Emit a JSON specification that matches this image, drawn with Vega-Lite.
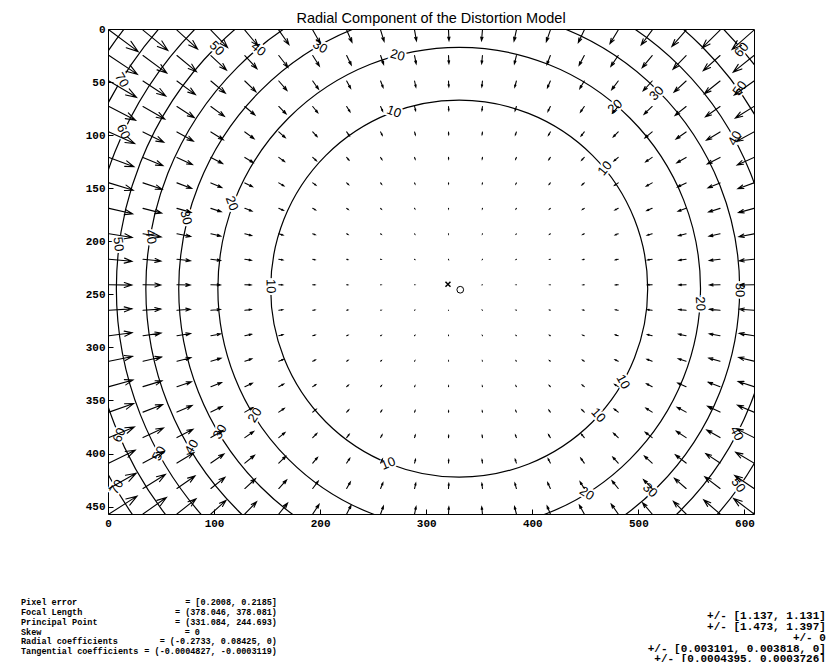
{
"$schema": "https://vega.github.io/schema/vega-lite/v6.json",
"width": 646, "height": 485,
"autosize": {"type": "none"},
"padding": {"left": 108, "top": 29, "right": 72, "bottom": 148},
"background": "white",
"config": {
 "view": {"stroke": "black", "strokeWidth": 1},
 "axis": {"domain": false, "grid": false, "ticks": true, "tickSize": -5, "tickColor": "black", "labelFont": "Liberation Mono", "labelFontWeight": "bold", "labelFontSize": 11, "labelColor": "black", "labelPadding": 8, "labelFlush": false, "labelOverlap": false, "title": null}
},
"title": {"text": "Radial Component of the Distortion Model", "font": "Liberation Sans", "fontSize": 14.5, "fontWeight": "normal", "color": "black", "offset": -3, "anchor": "middle"},
"datasets": {
 "contours": [
  {"level": 10, "r": 177.7, "cx": 331.08, "cy": 244.69},
  {"level": 20, "r": 227.5, "cx": 331.08, "cy": 244.69},
  {"level": 30, "r": 264.4, "cx": 331.08, "cy": 244.69},
  {"level": 40, "r": 295.4, "cx": 331.08, "cy": 244.69},
  {"level": 50, "r": 323.2, "cx": 331.08, "cy": 244.69},
  {"level": 60, "r": 349.2, "cx": 331.08, "cy": 244.69},
  {"level": 70, "r": 374.4, "cx": 331.08, "cy": 244.69},
  {"level": 80, "r": 399.6, "cx": 331.08, "cy": 244.69}
 ],
 "labels": [
  {"t":"50","x":102.5,"y":18.2,"a":45.3},
  {"t":"40","x":141.7,"y":19.1,"a":40.0},
  {"t":"30","x":199.8,"y":16.7,"a":29.9},
  {"t":"70","x":12.9,"y":48.1,"a":58.3},
  {"t":"60","x":14.4,"y":96.8,"a":65.0},
  {"t":"20","x":273.0,"y":24.8,"a":14.8},
  {"t":"10","x":269.5,"y":78.0,"a":20.3},
  {"t":"60","x":597.4,"y":19.8,"a":-49.8},
  {"t":"50","x":595.8,"y":55.9,"a":-54.5},
  {"t":"30","x":517.2,"y":60.6,"a":-45.3},
  {"t":"20","x":478.0,"y":73.2,"a":-40.6},
  {"t":"40","x":591.1,"y":103.0,"a":-61.4},
  {"t":"20","x":116.6,"y":164.3,"a":69.5},
  {"t":"30","x":73.5,"y":177.5,"a":75.4},
  {"t":"40","x":40.3,"y":195.8,"a":80.5},
  {"t":"50","x":9.7,"y":202.7,"a":82.6},
  {"t":"10","x":153.4,"y":242.3,"a":89.2},
  {"t":"10","x":468.5,"y":131.3,"a":-50.5},
  {"t":"20","x":558.3,"y":258.8,"a":86.4},
  {"t":"30","x":595.5,"y":246.0,"a":89.7},
  {"t":"60","x":10.7,"y":382.7,"a":-66.7},
  {"t":"50","x":48.4,"y":400.0,"a":-61.2},
  {"t":"40","x":78.9,"y":393.8,"a":-59.4},
  {"t":"30","x":105.6,"y":379.6,"a":-59.1},
  {"t":"20","x":138.6,"y":363.9,"a":-58.2},
  {"t":"70","x":8.2,"y":431.5,"a":-60.0},
  {"t":"10","x":264.2,"y":409.4,"a":-22.1},
  {"t":"10","x":462.2,"y":363.9,"a":47.7},
  {"t":"10","x":485.6,"y":332.5,"a":60.4},
  {"t":"20","x":451.3,"y":437.7,"a":31.9},
  {"t":"30","x":511.0,"y":434.6,"a":43.5},
  {"t":"40","x":592.6,"y":381.1,"a":62.5},
  {"t":"50","x":594.2,"y":429.9,"a":54.9}
 ],
 "arrows": [
  {"x":1,"y":1,"a":-53.5,"m":84.6},{"x":33,"y":1,"a":-50.7,"m":74.8},{"x":65,"y":1,"a":-47.5,"m":65.2},{"x":97,"y":1,"a":-43.8,"m":56.2},{"x":129,"y":1,"a":-39.7,"m":48.1},{"x":161,"y":1,"a":-35.0,"m":41.1},{"x":193,"y":1,"a":-29.6,"m":35.4},{"x":225,"y":1,"a":-23.6,"m":30.9},{"x":257,"y":1,"a":-17.1,"m":27.6},{"x":289,"y":1,"a":-10.0,"m":25.5},{"x":321,"y":1,"a":-2.6,"m":24.5},{"x":353,"y":1,"a":4.9,"m":24.7},{"x":385,"y":1,"a":12.2,"m":26.0},{"x":417,"y":1,"a":19.1,"m":28.4},{"x":449,"y":1,"a":25.5,"m":32.2},{"x":481,"y":1,"a":31.3,"m":37.0},{"x":513,"y":1,"a":36.4,"m":43.2},{"x":545,"y":1,"a":41.0,"m":50.5},{"x":577,"y":1,"a":45.0,"m":58.9},{"x":609,"y":1,"a":48.5,"m":68.1},
  {"x":1,"y":25,"a":-56.3,"m":79.3},{"x":33,"y":25,"a":-53.6,"m":68.9},{"x":65,"y":25,"a":-50.4,"m":59.0},{"x":97,"y":25,"a":-46.8,"m":49.7},{"x":129,"y":25,"a":-42.6,"m":41.6},{"x":161,"y":25,"a":-37.8,"m":34.6},{"x":193,"y":25,"a":-32.2,"m":29.0},{"x":225,"y":25,"a":-25.9,"m":24.6},{"x":257,"y":25,"a":-18.8,"m":21.5},{"x":289,"y":25,"a":-11.0,"m":19.4},{"x":321,"y":25,"a":-2.9,"m":18.5},{"x":353,"y":25,"a":5.4,"m":18.7},{"x":385,"y":25,"a":13.5,"m":19.9},{"x":417,"y":25,"a":21.0,"m":22.3},{"x":449,"y":25,"a":27.9,"m":25.8},{"x":481,"y":25,"a":34.0,"m":30.6},{"x":513,"y":25,"a":39.3,"m":36.7},{"x":545,"y":25,"a":43.9,"m":44.0},{"x":577,"y":25,"a":48.0,"m":52.5},{"x":609,"y":25,"a":51.4,"m":62.0},
  {"x":1,"y":49,"a":-59.3,"m":74.3},{"x":33,"y":49,"a":-56.7,"m":63.5},{"x":65,"y":49,"a":-53.6,"m":53.3},{"x":97,"y":49,"a":-50.1,"m":43.9},{"x":129,"y":49,"a":-45.9,"m":35.8},{"x":161,"y":49,"a":-41.0,"m":28.9},{"x":193,"y":49,"a":-35.3,"m":23.4},{"x":225,"y":49,"a":-28.5,"m":19.2},{"x":257,"y":49,"a":-20.9,"m":16.2},{"x":289,"y":49,"a":-12.3,"m":14.3},{"x":321,"y":49,"a":-3.2,"m":13.4},{"x":353,"y":49,"a":6.1,"m":13.6},{"x":385,"y":49,"a":15.0,"m":14.8},{"x":417,"y":49,"a":23.3,"m":17.0},{"x":449,"y":49,"a":30.7,"m":20.4},{"x":481,"y":49,"a":37.1,"m":25.0},{"x":513,"y":49,"a":42.6,"m":30.9},{"x":545,"y":49,"a":47.3,"m":38.2},{"x":577,"y":49,"a":51.2,"m":46.7},{"x":609,"y":49,"a":54.6,"m":56.3},
  {"x":1,"y":73,"a":-62.4,"m":69.6},{"x":33,"y":73,"a":-60.0,"m":58.5},{"x":65,"y":73,"a":-57.1,"m":48.1},{"x":97,"y":73,"a":-53.7,"m":38.8},{"x":129,"y":73,"a":-49.6,"m":30.7},{"x":161,"y":73,"a":-44.7,"m":24.0},{"x":193,"y":73,"a":-38.8,"m":18.7},{"x":225,"y":73,"a":-31.8,"m":14.7},{"x":257,"y":73,"a":-23.5,"m":11.9},{"x":289,"y":73,"a":-14.0,"m":10.1},{"x":321,"y":73,"a":-3.7,"m":9.3},{"x":353,"y":73,"a":6.9,"m":9.5},{"x":385,"y":73,"a":17.0,"m":10.5},{"x":417,"y":73,"a":26.2,"m":12.6},{"x":449,"y":73,"a":34.1,"m":15.8},{"x":481,"y":73,"a":40.7,"m":20.2},{"x":513,"y":73,"a":46.3,"m":26.0},{"x":545,"y":73,"a":50.9,"m":33.1},{"x":577,"y":73,"a":54.8,"m":41.5},{"x":609,"y":73,"a":58.1,"m":51.2},
  {"x":1,"y":97,"a":-65.8,"m":65.4},{"x":33,"y":97,"a":-63.6,"m":54.1},{"x":65,"y":97,"a":-60.9,"m":43.7},{"x":97,"y":97,"a":-57.7,"m":34.3},{"x":129,"y":97,"a":-53.8,"m":26.4},{"x":161,"y":97,"a":-49.0,"m":19.9},{"x":193,"y":97,"a":-43.1,"m":14.8},{"x":225,"y":97,"a":-35.7,"m":11.0},{"x":257,"y":97,"a":-26.8,"m":8.4},{"x":289,"y":97,"a":-16.1,"m":6.8},{"x":321,"y":97,"a":-4.3,"m":6.1},{"x":353,"y":97,"a":8.0,"m":6.2},{"x":385,"y":97,"a":19.6,"m":7.1},{"x":417,"y":97,"a":29.7,"m":9.1},{"x":449,"y":97,"a":38.2,"m":12.0},{"x":481,"y":97,"a":45.0,"m":16.2},{"x":513,"y":97,"a":50.6,"m":21.7},{"x":545,"y":97,"a":55.1,"m":28.6},{"x":577,"y":97,"a":58.7,"m":37.1},{"x":609,"y":97,"a":61.7,"m":46.8},
  {"x":1,"y":121,"a":-69.4,"m":61.8},{"x":33,"y":121,"a":-67.4,"m":50.3},{"x":65,"y":121,"a":-65.0,"m":39.8},{"x":97,"y":121,"a":-62.1,"m":30.6},{"x":129,"y":121,"a":-58.5,"m":22.7},{"x":161,"y":121,"a":-53.9,"m":16.5},{"x":193,"y":121,"a":-48.1,"m":11.6},{"x":225,"y":121,"a":-40.7,"m":8.1},{"x":257,"y":121,"a":-31.1,"m":5.7},{"x":289,"y":121,"a":-19.1,"m":4.3},{"x":321,"y":121,"a":-5.1,"m":3.7},{"x":353,"y":121,"a":9.5,"m":3.8},{"x":385,"y":121,"a":23.0,"m":4.6},{"x":417,"y":121,"a":34.3,"m":6.3},{"x":449,"y":121,"a":43.2,"m":9.0},{"x":481,"y":121,"a":50.1,"m":12.9},{"x":513,"y":121,"a":55.4,"m":18.2},{"x":545,"y":121,"a":59.6,"m":25.0},{"x":577,"y":121,"a":63.0,"m":33.3},{"x":609,"y":121,"a":65.8,"m":42.9},
  {"x":1,"y":145,"a":-73.1,"m":58.8},{"x":33,"y":145,"a":-71.4,"m":47.2},{"x":65,"y":145,"a":-69.3,"m":36.7},{"x":97,"y":145,"a":-66.8,"m":27.5},{"x":129,"y":145,"a":-63.6,"m":19.9},{"x":161,"y":145,"a":-59.5,"m":13.7},{"x":193,"y":145,"a":-54.1,"m":9.1},{"x":225,"y":145,"a":-46.8,"m":5.9},{"x":257,"y":145,"a":-36.7,"m":3.7},{"x":289,"y":145,"a":-23.2,"m":2.5},{"x":321,"y":145,"a":-6.3,"m":2.0},{"x":353,"y":145,"a":11.7,"m":2.1},{"x":385,"y":145,"a":27.7,"m":2.8},{"x":417,"y":145,"a":40.1,"m":4.3},{"x":449,"y":145,"a":49.3,"m":6.7},{"x":481,"y":145,"a":55.9,"m":10.3},{"x":513,"y":145,"a":60.9,"m":15.5},{"x":545,"y":145,"a":64.7,"m":22.1},{"x":577,"y":145,"a":67.6,"m":30.2},{"x":609,"y":145,"a":70.0,"m":39.8},
  {"x":1,"y":169,"a":-77.0,"m":56.4},{"x":33,"y":169,"a":-75.6,"m":44.8},{"x":65,"y":169,"a":-74.0,"m":34.2},{"x":97,"y":169,"a":-71.9,"m":25.2},{"x":129,"y":169,"a":-69.3,"m":17.6},{"x":161,"y":169,"a":-65.9,"m":11.7},{"x":193,"y":169,"a":-61.1,"m":7.3},{"x":225,"y":169,"a":-54.4,"m":4.3},{"x":257,"y":169,"a":-44.4,"m":2.4},{"x":289,"y":169,"a":-29.3,"m":1.3},{"x":321,"y":169,"a":-8.2,"m":0.9},{"x":353,"y":169,"a":15.3,"m":1.0},{"x":385,"y":169,"a":34.6,"m":1.6},{"x":417,"y":169,"a":47.9,"m":2.8},{"x":449,"y":169,"a":56.7,"m":5.0},{"x":481,"y":169,"a":62.8,"m":8.5},{"x":513,"y":169,"a":67.0,"m":13.4},{"x":545,"y":169,"a":70.2,"m":19.8},{"x":577,"y":169,"a":72.6,"m":27.8},{"x":609,"y":169,"a":74.5,"m":37.3},
  {"x":1,"y":193,"a":-81.0,"m":54.6},{"x":33,"y":193,"a":-80.0,"m":42.9},{"x":65,"y":193,"a":-78.8,"m":32.5},{"x":97,"y":193,"a":-77.4,"m":23.4},{"x":129,"y":193,"a":-75.5,"m":16.1},{"x":161,"y":193,"a":-72.9,"m":10.2},{"x":193,"y":193,"a":-69.2,"m":6.1},{"x":225,"y":193,"a":-63.8,"m":3.2},{"x":257,"y":193,"a":-54.9,"m":1.5},{"x":289,"y":193,"a":-39.3,"m":0.64},{"x":321,"y":193,"a":-11.9,"m":0.32},{"x":353,"y":193,"a":21.7,"m":0.36},{"x":385,"y":193,"a":45.1,"m":0.82},{"x":417,"y":193,"a":58.2,"m":1.9},{"x":449,"y":193,"a":65.7,"m":4.0},{"x":481,"y":193,"a":70.5,"m":7.2},{"x":513,"y":193,"a":73.8,"m":11.9},{"x":545,"y":193,"a":76.1,"m":18.1},{"x":577,"y":193,"a":77.9,"m":26.1},{"x":609,"y":193,"a":79.2,"m":35.5},
  {"x":1,"y":217,"a":-85.0,"m":53.5},{"x":33,"y":217,"a":-84.5,"m":41.8},{"x":65,"y":217,"a":-83.9,"m":31.4},{"x":97,"y":217,"a":-83.0,"m":22.4},{"x":129,"y":217,"a":-82.0,"m":15.1},{"x":161,"y":217,"a":-80.5,"m":9.4},{"x":193,"y":217,"a":-78.3,"m":5.3},{"x":225,"y":217,"a":-75.0,"m":2.6},{"x":257,"y":217,"a":-69.1,"m":0.98},{"x":289,"y":217,"a":-56.3,"m":0.29},{"x":321,"y":217,"a":-21.1,"m":0.07},{"x":353,"y":217,"a":36.1,"m":0.1},{"x":385,"y":217,"a":61.5,"m":0.42},{"x":417,"y":217,"a":71.3,"m":1.4},{"x":449,"y":217,"a":76.2,"m":3.2},{"x":481,"y":217,"a":79.1,"m":6.4},{"x":513,"y":217,"a":81.0,"m":10.9},{"x":545,"y":217,"a":82.3,"m":17.1},{"x":577,"y":217,"a":83.3,"m":25.0},{"x":609,"y":217,"a":84.1,"m":34.4},
  {"x":1,"y":241,"a":-89.2,"m":53.0},{"x":33,"y":241,"a":-89.1,"m":41.3},{"x":65,"y":241,"a":-89.0,"m":30.9},{"x":97,"y":241,"a":-88.9,"m":22.0},{"x":129,"y":241,"a":-88.7,"m":14.7},{"x":161,"y":241,"a":-88.4,"m":9.1},{"x":193,"y":241,"a":-88.1,"m":5.0},{"x":225,"y":241,"a":-87.5,"m":2.4},{"x":257,"y":241,"a":-86.4,"m":0.84},{"x":289,"y":241,"a":-83.8,"m":0.17},{"x":321,"y":241,"a":-67.1,"m":0.01},{"x":353,"y":241,"a":77.4,"m":0.02},{"x":385,"y":241,"a":84.9,"m":0.31},{"x":417,"y":241,"a":86.8,"m":1.2},{"x":449,"y":241,"a":87.7,"m":3.0},{"x":481,"y":241,"a":88.2,"m":6.1},{"x":513,"y":241,"a":88.5,"m":10.6},{"x":545,"y":241,"a":88.7,"m":16.7},{"x":577,"y":241,"a":88.9,"m":24.5},{"x":609,"y":241,"a":89.0,"m":33.9},
  {"x":1,"y":265,"a":-93.3,"m":53.2},{"x":33,"y":265,"a":-93.7,"m":41.5},{"x":65,"y":265,"a":-94.1,"m":31.1},{"x":97,"y":265,"a":-94.7,"m":22.1},{"x":129,"y":265,"a":-95.4,"m":14.8},{"x":161,"y":265,"a":-96.4,"m":9.2},{"x":193,"y":265,"a":-97.9,"m":5.1},{"x":225,"y":265,"a":-100.2,"m":2.5},{"x":257,"y":265,"a":-104.4,"m":0.9},{"x":289,"y":265,"a":-114.1,"m":0.23},{"x":321,"y":265,"a":-150.2,"m":0.03},{"x":353,"y":265,"a":132.7,"m":0.06},{"x":385,"y":265,"a":110.0,"m":0.36},{"x":417,"y":265,"a":102.8,"m":1.3},{"x":449,"y":265,"a":99.4,"m":3.1},{"x":481,"y":265,"a":97.4,"m":6.2},{"x":513,"y":265,"a":96.1,"m":10.7},{"x":545,"y":265,"a":95.2,"m":16.9},{"x":577,"y":265,"a":94.5,"m":24.7},{"x":609,"y":265,"a":94.0,"m":34.1},
  {"x":1,"y":289,"a":-97.5,"m":54.1},{"x":33,"y":289,"a":-98.2,"m":42.4},{"x":65,"y":289,"a":-99.2,"m":32.0},{"x":97,"y":289,"a":-100.4,"m":22.9},{"x":129,"y":289,"a":-102.0,"m":15.6},{"x":161,"y":289,"a":-104.2,"m":9.9},{"x":193,"y":289,"a":-107.3,"m":5.7},{"x":225,"y":289,"a":-112.0,"m":2.9},{"x":257,"y":289,"a":-120.0,"m":1.3},{"x":289,"y":289,"a":-135.2,"m":0.44},{"x":321,"y":289,"a":-165.6,"m":0.19},{"x":353,"y":289,"a":154.2,"m":0.24},{"x":385,"y":289,"a":129.3,"m":0.65},{"x":417,"y":289,"a":117.0,"m":1.7},{"x":449,"y":289,"a":110.3,"m":3.6},{"x":481,"y":289,"a":106.2,"m":6.8},{"x":513,"y":289,"a":103.5,"m":11.5},{"x":545,"y":289,"a":101.5,"m":17.7},{"x":577,"y":289,"a":100.0,"m":25.6},{"x":609,"y":289,"a":98.9,"m":35.0},
  {"x":1,"y":313,"a":-101.5,"m":55.6},{"x":33,"y":313,"a":-102.7,"m":44.0},{"x":65,"y":313,"a":-104.1,"m":33.5},{"x":97,"y":313,"a":-106.0,"m":24.4},{"x":129,"y":313,"a":-108.3,"m":16.9},{"x":161,"y":313,"a":-111.5,"m":11.1},{"x":193,"y":313,"a":-115.8,"m":6.8},{"x":225,"y":313,"a":-122.2,"m":3.8},{"x":257,"y":313,"a":-131.9,"m":1.9},{"x":289,"y":313,"a":-147.4,"m":0.97},{"x":321,"y":313,"a":-170.7,"m":0.64},{"x":353,"y":313,"a":162.7,"m":0.7},{"x":385,"y":313,"a":141.8,"m":1.2},{"x":417,"y":313,"a":128.4,"m":2.4},{"x":449,"y":313,"a":119.9,"m":4.6},{"x":481,"y":313,"a":114.3,"m":7.9},{"x":513,"y":313,"a":110.4,"m":12.7},{"x":545,"y":313,"a":107.5,"m":19.0},{"x":577,"y":313,"a":105.4,"m":27.0},{"x":609,"y":313,"a":103.7,"m":36.6},
  {"x":1,"y":337,"a":-105.4,"m":57.8},{"x":33,"y":337,"a":-107.0,"m":46.2},{"x":65,"y":337,"a":-108.9,"m":35.6},{"x":97,"y":337,"a":-111.2,"m":26.5},{"x":129,"y":337,"a":-114.2,"m":18.9},{"x":161,"y":337,"a":-118.1,"m":12.9},{"x":193,"y":337,"a":-123.3,"m":8.4},{"x":225,"y":337,"a":-130.5,"m":5.1},{"x":257,"y":337,"a":-140.6,"m":3.1},{"x":289,"y":337,"a":-154.7,"m":1.9},{"x":321,"y":337,"a":-173.1,"m":1.5},{"x":353,"y":337,"a":167.1,"m":1.6},{"x":385,"y":337,"a":149.9,"m":2.2},{"x":417,"y":337,"a":137.1,"m":3.6},{"x":449,"y":337,"a":128.0,"m":6.0},{"x":481,"y":337,"a":121.5,"m":9.6},{"x":513,"y":337,"a":116.8,"m":14.5},{"x":545,"y":337,"a":113.2,"m":21.1},{"x":577,"y":337,"a":110.5,"m":29.1},{"x":609,"y":337,"a":108.3,"m":38.8},
  {"x":1,"y":361,"a":-109.2,"m":60.6},{"x":33,"y":361,"a":-111.1,"m":49.0},{"x":65,"y":361,"a":-113.4,"m":38.5},{"x":97,"y":361,"a":-116.1,"m":29.3},{"x":129,"y":361,"a":-119.6,"m":21.6},{"x":161,"y":361,"a":-124.0,"m":15.3},{"x":193,"y":361,"a":-129.7,"m":10.5},{"x":225,"y":361,"a":-137.1,"m":7.1},{"x":257,"y":361,"a":-146.9,"m":4.8},{"x":289,"y":361,"a":-159.5,"m":3.5},{"x":321,"y":361,"a":-174.5,"m":2.9},{"x":353,"y":361,"a":169.7,"m":3.0},{"x":385,"y":361,"a":155.4,"m":3.8},{"x":417,"y":361,"a":143.6,"m":5.4},{"x":449,"y":361,"a":134.6,"m":8.0},{"x":481,"y":361,"a":127.8,"m":11.9},{"x":513,"y":361,"a":122.5,"m":17.1},{"x":545,"y":361,"a":118.4,"m":23.7},{"x":577,"y":361,"a":115.2,"m":32.0},{"x":609,"y":361,"a":112.6,"m":41.6},
  {"x":1,"y":385,"a":-112.8,"m":64.0},{"x":33,"y":385,"a":-115.0,"m":52.6},{"x":65,"y":385,"a":-117.5,"m":42.0},{"x":97,"y":385,"a":-120.6,"m":32.8},{"x":129,"y":385,"a":-124.5,"m":24.9},{"x":161,"y":385,"a":-129.2,"m":18.4},{"x":193,"y":385,"a":-135.0,"m":13.4},{"x":225,"y":385,"a":-142.4,"m":9.7},{"x":257,"y":385,"a":-151.7,"m":7.2},{"x":289,"y":385,"a":-162.8,"m":5.7},{"x":321,"y":385,"a":-175.5,"m":5.0},{"x":353,"y":385,"a":171.5,"m":5.1},{"x":385,"y":385,"a":159.2,"m":6.1},{"x":417,"y":385,"a":148.6,"m":7.9},{"x":449,"y":385,"a":140.0,"m":10.7},{"x":481,"y":385,"a":133.1,"m":14.8},{"x":513,"y":385,"a":127.6,"m":20.3},{"x":545,"y":385,"a":123.2,"m":27.2},{"x":577,"y":385,"a":119.6,"m":35.5},{"x":609,"y":385,"a":116.7,"m":45.2},
  {"x":1,"y":409,"a":-116.3,"m":67.9},{"x":33,"y":409,"a":-118.6,"m":56.7},{"x":65,"y":409,"a":-121.4,"m":46.3},{"x":97,"y":409,"a":-124.8,"m":37.0},{"x":129,"y":409,"a":-128.8,"m":28.9},{"x":161,"y":409,"a":-133.7,"m":22.3},{"x":193,"y":409,"a":-139.6,"m":17.1},{"x":225,"y":409,"a":-146.7,"m":13.1},{"x":257,"y":409,"a":-155.3,"m":10.3},{"x":289,"y":409,"a":-165.2,"m":8.7},{"x":321,"y":409,"a":-176.1,"m":8.0},{"x":353,"y":409,"a":172.7,"m":8.1},{"x":385,"y":409,"a":162.0,"m":9.1},{"x":417,"y":409,"a":152.5,"m":11.1},{"x":449,"y":409,"a":144.4,"m":14.2},{"x":481,"y":409,"a":137.6,"m":18.5},{"x":513,"y":409,"a":132.1,"m":24.2},{"x":545,"y":409,"a":127.5,"m":31.3},{"x":577,"y":409,"a":123.7,"m":39.7},{"x":609,"y":409,"a":120.5,"m":49.4},
  {"x":1,"y":433,"a":-119.5,"m":72.4},{"x":33,"y":433,"a":-122.1,"m":61.5},{"x":65,"y":433,"a":-125.0,"m":51.2},{"x":97,"y":433,"a":-128.6,"m":41.8},{"x":129,"y":433,"a":-132.7,"m":33.7},{"x":161,"y":433,"a":-137.6,"m":27.0},{"x":193,"y":433,"a":-143.4,"m":21.5},{"x":225,"y":433,"a":-150.3,"m":17.3},{"x":257,"y":433,"a":-158.2,"m":14.4},{"x":289,"y":433,"a":-167.0,"m":12.6},{"x":321,"y":433,"a":-176.6,"m":11.8},{"x":353,"y":433,"a":173.6,"m":11.9},{"x":385,"y":433,"a":164.2,"m":13.0},{"x":417,"y":433,"a":155.6,"m":15.2},{"x":449,"y":433,"a":148.0,"m":18.4},{"x":481,"y":433,"a":141.5,"m":23.0},{"x":513,"y":433,"a":136.0,"m":28.8},{"x":545,"y":433,"a":131.3,"m":36.1},{"x":577,"y":433,"a":127.4,"m":44.6},{"x":609,"y":433,"a":124.1,"m":54.3},
  {"x":1,"y":457,"a":-122.6,"m":77.3},{"x":33,"y":457,"a":-125.2,"m":66.7},{"x":65,"y":457,"a":-128.4,"m":56.6},{"x":97,"y":457,"a":-132.0,"m":47.4},{"x":129,"y":457,"a":-136.1,"m":39.3},{"x":161,"y":457,"a":-141.0,"m":32.4},{"x":193,"y":457,"a":-146.6,"m":26.8},{"x":225,"y":457,"a":-153.1,"m":22.4},{"x":257,"y":457,"a":-160.4,"m":19.3},{"x":289,"y":457,"a":-168.5,"m":17.3},{"x":321,"y":457,"a":-177.0,"m":16.5},{"x":353,"y":457,"a":174.3,"m":16.6},{"x":385,"y":457,"a":165.9,"m":17.8},{"x":417,"y":457,"a":158.1,"m":20.1},{"x":449,"y":457,"a":151.0,"m":23.6},{"x":481,"y":457,"a":144.8,"m":28.3},{"x":513,"y":457,"a":139.4,"m":34.3},{"x":545,"y":457,"a":134.8,"m":41.6},{"x":577,"y":457,"a":130.8,"m":50.1},{"x":609,"y":457,"a":127.4,"m":59.7}
 ],
 "info": [
  {"labels": "Pixel error\nFocal Length\nPrincipal Point\nSkew\nRadial coefficients\nTangential coefficients",
   "values": "= [0.2008, 0.2185]\n= (378.046, 378.081)\n= (331.084, 244.693)\n= 0\u2800\u2800\u2800\u2800\u2800\u2800\u2800\u2800\u2800\u2800\u2800\n= (-0.2733, 0.08425, 0)\n= (-0.0004827, -0.0003119)",
   "errors": "+/- [1.137, 1.131]\n+/- [1.473, 1.397]\n+/- 0\n+/- [0.003101, 0.003818, 0]\n+/- [0.0004395, 0.0003726]"}
 ]
},
"encoding": {
 "x": {"type": "quantitative", "scale": {"domain": [0, 609], "nice": false, "zero": false}, "axis": {"values": [0,100,200,300,400,500,600]}},
 "y": {"type": "quantitative", "scale": {"domain": [0, 457], "nice": false, "zero": false, "reverse": true}, "axis": {"values": [0,50,100,150,200,250,300,350,400,450]}}
},
"layer": [
 {"data": {"name": "contours"},
  "mark": {"type": "arc", "filled": false, "color": "black", "strokeWidth": 1.2, "theta": 0, "theta2": 6.2832, "clip": true},
  "encoding": {
   "x": {"field": "cx", "type": "quantitative"},
   "y": {"field": "cy", "type": "quantitative"},
   "radius": {"field": "r", "type": "quantitative", "stack": null, "scale": {"type": "linear", "domain": [0, 609], "range": [0, 646], "zero": true}}
  }},
 {"data": {"name": "labels"},
  "mark": {"type": "text", "font": "Liberation Sans", "fontSize": 13, "align": "center", "baseline": "middle", "fill": "white", "stroke": "white", "strokeWidth": 4},
  "encoding": {
   "x": {"field": "x", "type": "quantitative"},
   "y": {"field": "y", "type": "quantitative"},
   "text": {"field": "t"},
   "angle": {"field": "a", "type": "quantitative", "scale": null}
  }},
 {"data": {"name": "arrows"},
  "mark": {"type": "point", "shape": "M0,0L0,1M-0.11,0.67L0,1L0.11,0.67", "filled": false, "color": "black", "strokeWidth": 1.1, "opacity": 1, "strokeCap": "round", "clip": true},
  "encoding": {
   "x": {"field": "x", "type": "quantitative"},
   "y": {"field": "y", "type": "quantitative"},
   "angle": {"field": "a", "type": "quantitative", "scale": null},
   "size": {"field": "m", "type": "quantitative", "scale": {"type": "pow", "exponent": 2, "domain": [0, 100], "range": [0, 7358], "zero": true}, "legend": null}
  }},
 {"data": {"name": "labels"},
  "mark": {"type": "text", "font": "Liberation Sans", "fontSize": 13, "align": "center", "baseline": "middle", "color": "black"},
  "encoding": {
   "x": {"field": "x", "type": "quantitative"},
   "y": {"field": "y", "type": "quantitative"},
   "text": {"field": "t"},
   "angle": {"field": "a", "type": "quantitative", "scale": null}
  }},
 {"data": {"values": [{"x": 332.08, "y": 245.69}]},
  "mark": {"type": "point", "shape": "circle", "filled": false, "size": 45, "color": "black", "strokeWidth": 1, "opacity": 1},
  "encoding": {"x": {"field": "x", "type": "quantitative"}, "y": {"field": "y", "type": "quantitative"}}},
 {"data": {"values": [{"x": 320.5, "y": 240.5}]},
  "mark": {"type": "point", "shape": "M-1,-1L1,1M-1,1L1,-1", "filled": false, "size": 25, "color": "black", "strokeWidth": 1.5, "opacity": 1},
  "encoding": {"x": {"field": "x", "type": "quantitative"}, "y": {"field": "y", "type": "quantitative"}}},
 {"data": {"name": "info"},
  "mark": {"type": "text", "font": "Liberation Mono", "fontWeight": "bold", "fontSize": 8.5, "align": "left", "baseline": "alphabetic", "lineBreak": "\n", "lineHeight": 9.8, "color": "black"},
  "encoding": {"x": {"datum": -82.0}, "y": {"datum": 542.9}, "text": {"field": "labels"}}},
 {"data": {"name": "info"},
  "mark": {"type": "text", "font": "Liberation Mono", "fontWeight": "bold", "fontSize": 8.5, "align": "right", "baseline": "alphabetic", "lineBreak": "\n", "lineHeight": 9.8, "color": "black"},
  "encoding": {"x": {"datum": 159.3}, "y": {"datum": 542.9}, "text": {"field": "values"}}},
 {"data": {"name": "info"},
  "mark": {"type": "text", "font": "Liberation Mono", "fontWeight": "bold", "fontSize": 11, "align": "right", "baseline": "alphabetic", "lineBreak": "\n", "lineHeight": 10.7, "color": "black"},
  "encoding": {"x": {"datum": 676.8}, "y": {"datum": 556.4}, "text": {"field": "errors"}}}
]
}
